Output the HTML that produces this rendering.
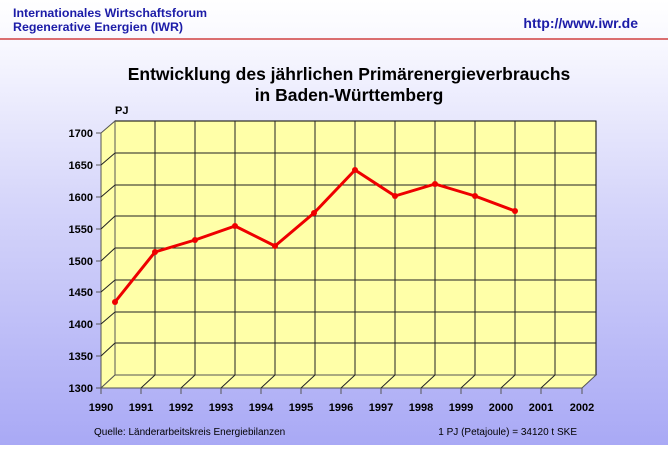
<!DOCTYPE html>
<html><head><meta charset="utf-8"><style>
body{margin:0;width:668px;height:445px;overflow:hidden;font-family:"Liberation Sans",sans-serif}
</style></head><body>
<svg width="668" height="445" xmlns="http://www.w3.org/2000/svg">
<defs><linearGradient id="bg" x1="0" y1="0" x2="0" y2="1">
<stop offset="0" stop-color="#ffffff"/><stop offset="0.1" stop-color="#f8f8ff"/><stop offset="0.45" stop-color="#d6d6fa"/><stop offset="1" stop-color="#a9a9f5"/></linearGradient></defs>
<rect width="668" height="445" fill="url(#bg)"/>
<text x="13" y="17" font-size="12.4" font-weight="bold" fill="#1c1ca8">Internationales Wirtschaftsforum</text>
<text x="13" y="31" font-size="12.4" font-weight="bold" fill="#1c1ca8">Regenerative Energien (IWR)</text>
<text x="638" y="28" font-size="14" font-weight="bold" fill="#1c1ca8" text-anchor="end">http://www.iwr.de</text>
<line x1="0" y1="39" x2="668" y2="39" stroke="#d04040" stroke-width="1.5"/>
<text x="349" y="80" font-size="17.5" font-weight="bold" text-anchor="middle" fill="#000">Entwicklung des jährlichen Primärenergieverbrauchs</text>
<text x="349" y="101" font-size="17.5" font-weight="bold" text-anchor="middle" fill="#000">in Baden-Württemberg</text>
<text x="115" y="114" font-size="11" font-weight="bold">PJ</text>
<polygon points="115,121 596,121 596,375 115,375" fill="#ffffa8" stroke="#000" stroke-width="1"/>
<polygon points="101,133 115,121 115,375 101,388" fill="#ffffa8" stroke="#555" stroke-width="1"/>
<polygon points="101,388 115,375 596,375 582,388" fill="#ffffa8" stroke="#555" stroke-width="1"/>
<g stroke="#222" stroke-width="1" fill="none">
<path d="M115,153H596M115,185H596M115,216H596M115,248H596M115,280H596M115,312H596M115,343H596"/>
<path d="M155,121V375M195,121V375M235,121V375M275,121V375M315,121V375M355,121V375M395,121V375M435,121V375M475,121V375M515,121V375M555,121V375"/>
<path d="M101,165L115,153M101,197L115,185M101,229L115,216M101,261L115,248M101,292L115,280M101,324L115,312M101,356L115,343"/>
<path d="M141,388L155,375M181,388L195,375M221,388L235,375M261,388L275,375M301,388L315,375M341,388L355,375M381,388L395,375M421,388L435,375M461,388L475,375M501,388L515,375M541,388L555,375"/>
</g>
<g stroke="#555" stroke-width="1">
<path d="M96,133H101M96,165H101M96,197H101M96,229H101M96,261H101M96,292H101M96,324H101M96,356H101M96,388H101"/>
<path d="M101,388V394M141,388V394M181,388V394M221,388V394M261,388V394M301,388V394M341,388V394M381,388V394M421,388V394M461,388V394M501,388V394M541,388V394M582,388V394"/>
</g>
<g font-size="11" font-weight="bold" text-anchor="end">
<text x="93" y="137">1700</text><text x="93" y="169">1650</text><text x="93" y="201">1600</text><text x="93" y="233">1550</text><text x="93" y="265">1500</text><text x="93" y="296">1450</text><text x="93" y="328">1400</text><text x="93" y="360">1350</text><text x="93" y="392">1300</text>
</g>
<g font-size="11" font-weight="bold" text-anchor="middle">
<text x="101" y="411">1990</text><text x="141" y="411">1991</text><text x="181" y="411">1992</text><text x="221" y="411">1993</text><text x="261" y="411">1994</text><text x="301" y="411">1995</text><text x="341" y="411">1996</text><text x="381" y="411">1997</text><text x="421" y="411">1998</text><text x="461" y="411">1999</text><text x="501" y="411">2000</text><text x="541" y="411">2001</text><text x="582" y="411">2002</text>
</g>
<polyline points="115,302 155,252 195,240 235,226 275,246 314,213 355,170 395,196 435,184 475,196 515,211" fill="none" stroke="#ee0000" stroke-width="3" stroke-linejoin="round"/>
<g fill="#ee0000"><circle cx="115" cy="302" r="3"/><circle cx="155" cy="252" r="3"/><circle cx="195" cy="240" r="3"/><circle cx="235" cy="226" r="3"/><circle cx="275" cy="246" r="3"/><circle cx="314" cy="213" r="3"/><circle cx="355" cy="170" r="3"/><circle cx="395" cy="196" r="3"/><circle cx="435" cy="184" r="3"/><circle cx="475" cy="196" r="3"/><circle cx="515" cy="211" r="3"/></g>
<text x="94" y="435" font-size="10">Quelle: Länderarbeitskreis Energiebilanzen</text>
<text x="577" y="435" font-size="10" text-anchor="end">1 PJ (Petajoule) = 34120 t SKE</text>
</svg>
</body></html>
